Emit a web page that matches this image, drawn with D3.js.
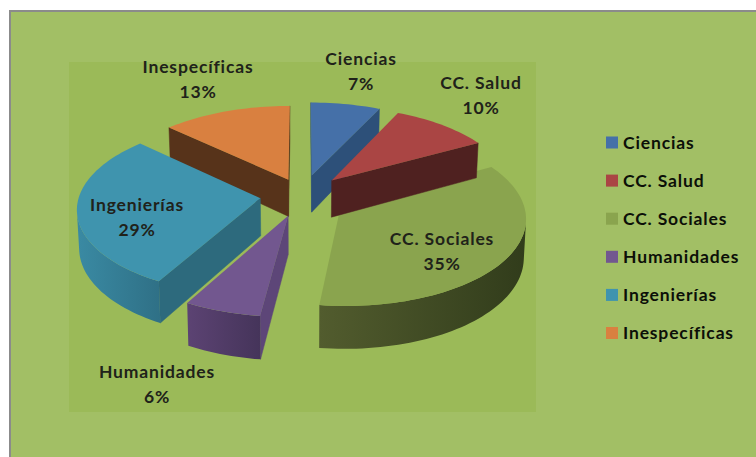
<!DOCTYPE html>
<html><head><meta charset="utf-8">
<style>html,body{margin:0;padding:0;background:#fff;overflow:hidden}svg{display:block}text{font-family:Lato,"Open Sans",sans-serif;font-weight:700;letter-spacing:.85px}</style>
<script src="https://cdn.jsdelivr.net/npm/d3@7"></script>
</head><body>
<script>
const categories = ["Ciencias","CC. Salud","CC. Sociales","Humanidades","Ingenierías","Inespecíficas"];
const percents = [7,10,35,6,29,13];
const topColors = ["#4570a8","#aa4544","#8aa44e","#72578f","#3f94ae","#d98040"];
const sideColors = ["#2d5079","#4f2120","#3a4220","#5d4678","#2d6a7d","#57331a"];
const wallLeft = ["#2d5079","#4f2120","#525c2e","#5c4373","#3a8aa3","#57331a"];
const wallRight = ["#2d5079","#4f2120","#313c1b","#45345a","#2f7086","#57331a"];
const explode = [0.24,0.24,0.25,0.25,0.235,0.2];
const drawOrder = [5,0,2,1,4,3];
const labelCenters = [[361,59],[481,83],[442,239],[157,372],[137,205],[198,67]];

const W=756,H=457,Xc=302.5,Yc=195,R0=181,K=0.47,P=0.11,D=37.5;
const svg=d3.select("body").append("svg").attr("width",W).attr("height",H);
const defs=svg.append("defs");
svg.append("rect").attr("x",10).attr("y",11).attr("width",W).attr("height",H).attr("fill","#a2bf65").attr("stroke","#8b8b8b").attr("stroke-width",2);
svg.append("rect").attr("x",69).attr("y",62).attr("width",467).attr("height",350).attr("fill","#9bba58");

const arcs=d3.pie().sort(null).value(d=>d)(percents);
const proj=(a,r,e,m,drop)=>{
  const px=e*Math.sin(m)+r*Math.sin(a), py=-e*Math.cos(m)-r*Math.cos(a);
  const s=1/(1-P*py);
  return [Xc+R0*px*s*(drop?0.99:1), Yc+R0*K*py*s+(drop?D*s:0)];
};
const line=d3.line();
const area2=q=>{let A=0;q.forEach((p,i)=>{const n=q[(i+1)%q.length];A+=p[0]*n[1]-n[0]*p[1];});return A/2;};
const gChart=svg.append("g");
drawOrder.forEach(i=>{
  const d=arcs[i],e=explode[i],m=(d.startAngle+d.endAngle)/2;
  const g=gChart.append("g");
  const n=Math.max(8,Math.round((d.endAngle-d.startAngle)/0.03));
  const angles=d3.range(n+1).map(j=>d.startAngle+(d.endAngle-d.startAngle)*j/n);
  const apexT=proj(0,0,e,m,false),apexB=proj(0,0,e,m,true);
  const quad=(a)=>[apexT,proj(a,1,e,m,false),proj(a,1,e,m,true),apexB];
  const qs=quad(d.startAngle),qe=quad(d.endAngle);
  if(area2(qs)<0) g.append("path").attr("d",line(qs)+"Z").attr("fill",sideColors[i]).attr("stroke",sideColors[i]).attr("stroke-width",.5);
  if(area2(qe)>0) g.append("path").attr("d",line(qe)+"Z").attr("fill",sideColors[i]).attr("stroke",sideColors[i]).attr("stroke-width",.5);
  const vis=[];
  for(let j=0;j<n;j++){
    const a=angles[j],b=angles[j+1];
    const q=[proj(a,1,e,m,false),proj(b,1,e,m,false),proj(b,1,e,m,true),proj(a,1,e,m,true)];
    if(area2(q)<0) vis.push(a,b);
  }
  if(vis.length){
    const as=[...new Set(vis)];
    const tops=as.map(a=>proj(a,1,e,m,false)),bots=as.map(a=>proj(a,1,e,m,true));
    const ext=d3.extent(tops.concat(bots),p=>p[0]);
    const id="wall"+i;
    const lg=defs.append("linearGradient").attr("id",id).attr("gradientUnits","userSpaceOnUse")
      .attr("x1",ext[0]).attr("x2",ext[1]).attr("y1",0).attr("y2",0);
    lg.append("stop").attr("offset",0).attr("stop-color",wallLeft[i]);
    lg.append("stop").attr("offset",1).attr("stop-color",wallRight[i]);
    g.append("path").attr("d",line(tops.concat(bots.reverse()))+"Z").attr("fill",`url(#${id})`);
  }
  const pts=[apexT,...angles.map(a=>proj(a,1,e,m,false))];
  g.append("path").attr("d",line(pts)+"Z").attr("fill",topColors[i]);
});

const gLab=svg.append("g").attr("fill","#20221a").attr("font-size",17.5).attr("text-anchor","middle");
categories.forEach((c,i)=>{
  const [x,y]=labelCenters[i];
  gLab.append("text").attr("x",x).attr("y",y+6).text(c);
  gLab.append("text").attr("x",x).attr("y",y+31).text(percents[i]+"%");
});
const legendY=d3.scalePoint().domain(categories).range([142.5,333]);
const gLeg=svg.append("g");
categories.forEach((c,i)=>{
  const y=legendY(c);
  gLeg.append("rect").attr("x",606).attr("y",y-6).attr("width",12).attr("height",12).attr("fill",topColors[i]);
  gLeg.append("text").attr("x",623).attr("y",y+6).attr("font-size",17.5).attr("fill","#0c0f08").text(c);
});
</script>
</body></html>
